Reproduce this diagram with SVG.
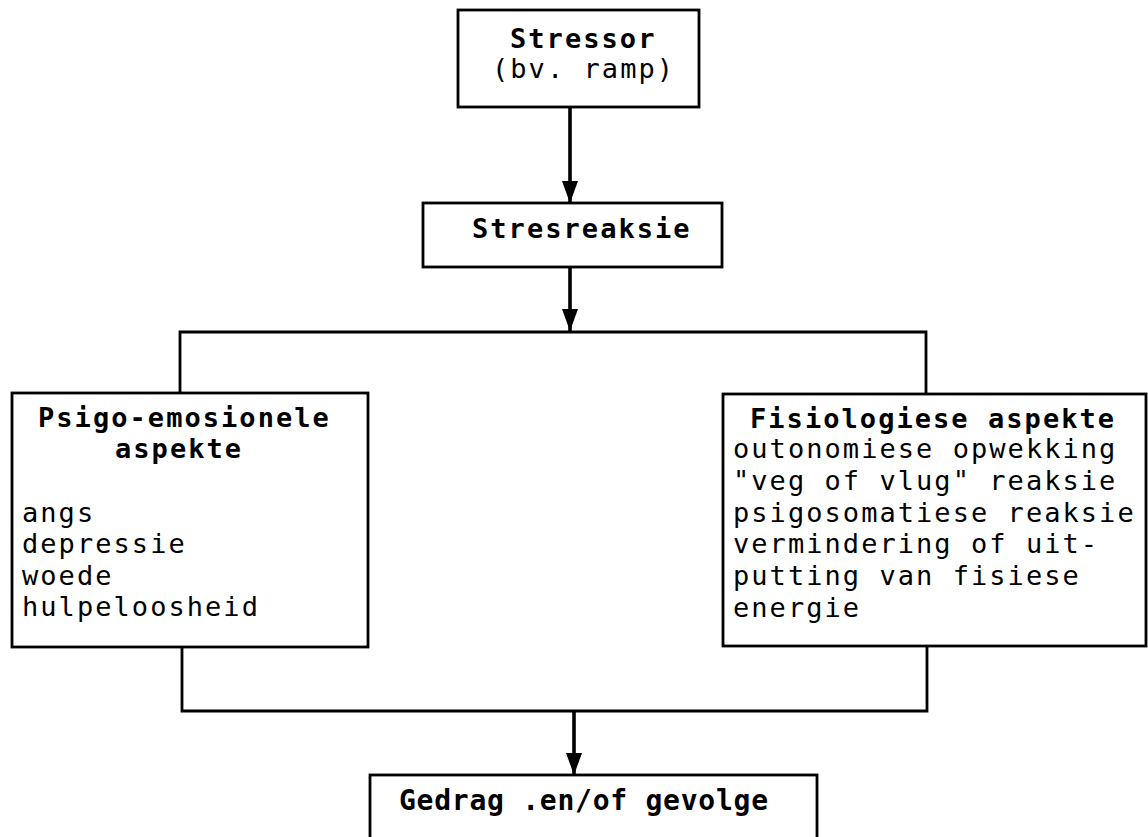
<svg xmlns="http://www.w3.org/2000/svg" width="1148" height="837" viewBox="0 0 1148 837">
  <style>
    .box { fill: #ffffff; stroke: #000000; stroke-width: 2.8; }
    .wire { fill: none; stroke: #000000; stroke-width: 2.8; stroke-linecap: square; }
    .shaft { fill: none; stroke: #000000; stroke-width: 3.6; }
    .t { font-family: "DejaVu Sans Mono", "Liberation Mono", monospace; font-size: 27px; letter-spacing: 2.05px; fill: #000000; }
    .b { font-weight: bold; }
    .cond { font-family: "DejaVu Sans Mono", "Liberation Mono", monospace; font-size: 28px; font-weight: bold; letter-spacing: 0.75px; fill: #000000; }
  </style>
  <defs>
    <marker id="down" markerUnits="userSpaceOnUse" markerWidth="18" markerHeight="24" viewBox="-9 -23 18 24" refX="0" refY="0" orient="0">
      <path d="M-8,-22 L8,-22 L0,0 Z" fill="#000000"/>
    </marker>
  </defs>

  <!-- connectors -->
  <g id="connectors">
    <line class="shaft" x1="570" y1="107" x2="570" y2="203" marker-end="url(#down)"/>
    <line class="shaft" x1="570" y1="267" x2="570" y2="331" marker-end="url(#down)"/>
    <polyline class="wire" points="180,393 180,332 926,332 926,394"/>
    <polyline class="wire" points="182,647 182,711 927,711 927,646"/>
    <line class="shaft" x1="574" y1="711" x2="574" y2="775" marker-end="url(#down)"/>
  </g>

  <!-- stressor -->
  <g id="stressor">
    <rect class="box" x="458" y="10" width="241" height="97"/>
    <text class="t b" x="510" y="48">Stressor</text>
    <text class="t" x="492" y="78">(bv. ramp)</text>
  </g>

  <!-- stress reaction -->
  <g id="stresreaksie">
    <rect class="box" x="423" y="203" width="299" height="64"/>
    <text class="t b" x="472" y="238">Stresreaksie</text>
  </g>

  <!-- psycho-emotional aspects -->
  <g id="psigo-emosionele">
    <rect class="box" x="12" y="393" width="356" height="254"/>
    <text class="t b" x="38" y="427">Psigo-emosionele</text>
    <text class="t b" x="115" y="458">aspekte</text>
    <text class="t" x="22" y="522">angs</text>
    <text class="t" x="22" y="553">depressie</text>
    <text class="t" x="22" y="585">woede</text>
    <text class="t" x="22" y="616">hulpeloosheid</text>
  </g>

  <!-- physiological aspects -->
  <g id="fisiologiese">
    <rect class="box" x="723" y="394" width="423" height="252"/>
    <text class="t b" x="750" y="428">Fisiologiese aspekte</text>
    <text class="t" x="733" y="458">outonomiese opwekking</text>
    <text class="t" x="733" y="490">"veg of vlug" reaksie</text>
    <text class="t" x="733" y="522">psigosomatiese reaksie</text>
    <text class="t" x="733" y="553">vermindering of uit-</text>
    <text class="t" x="733" y="585">putting van fisiese</text>
    <text class="t" x="733" y="617">energie</text>
  </g>

  <!-- behaviour and consequences -->
  <g id="gedrag">
    <rect class="box" x="370" y="775" width="447" height="80"/>
    <text class="cond" x="399" y="810">Gedrag .en/of gevolge</text>
  </g>
</svg>
